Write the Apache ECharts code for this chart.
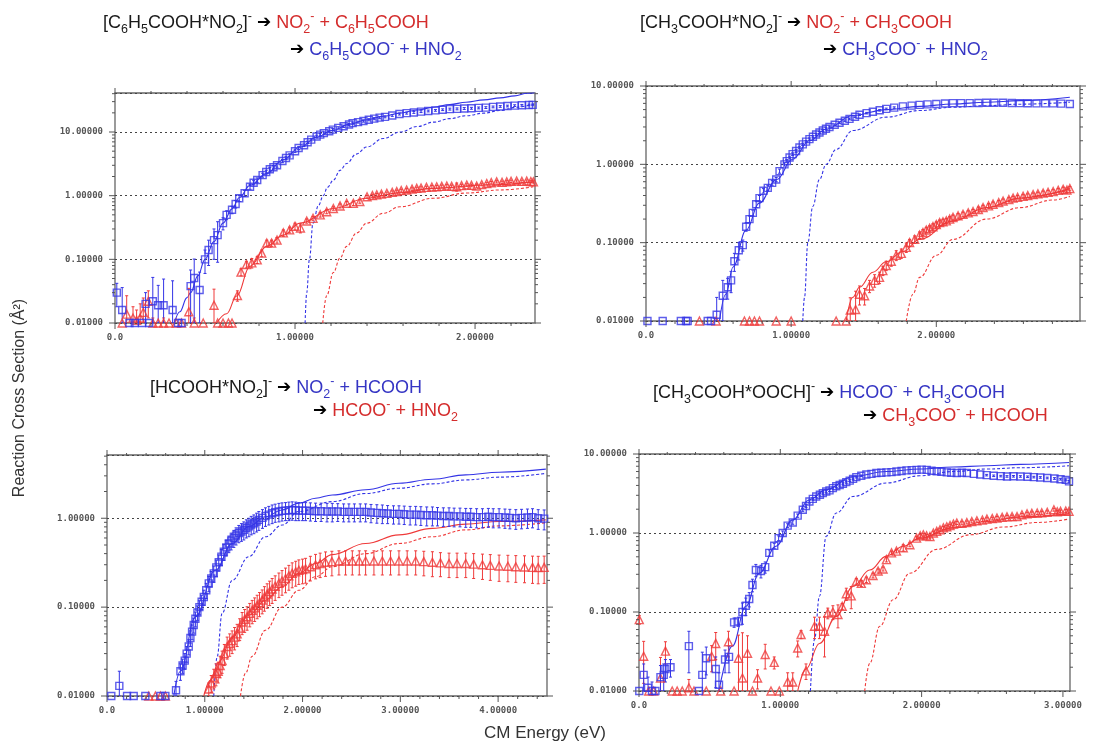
<!DOCTYPE html>
<html><head><meta charset="utf-8">
<script src="https://cdn.jsdelivr.net/npm/echarts/dist/echarts.min.js"></script>
<style>html,body{margin:0;padding:0;background:#fff}#c{width:1098px;height:745px}</style>
</head><body><div id="c"></div>
<script>
// ---------- DATA (x = CM energy eV, y = cross section A^2, e = error) ----------
// Panel 1: [C6H5COOH*NO2]-
const p1Blue = [[0.01,0.030,0.012],[0.04,0.016,0.02],[0.08,0,0.005],[0.11,0,0.005],[0.15,0,0.008],[0.17,0.020,0.01],[0.19,0,0.008],[0.21,0.022,0.03],[0.24,0.019,0.02],[0.27,0.019,0.03],[0.32,0.016,0.03],[0.35,0,0.005],[0.37,0,0.004],[0.42,0.038,0.03],[0.44,0.051,0.05],[0.47,0.033,0.03],[0.50,0.10,0.04],[0.52,0.14,0.06],[0.55,0.20,0.1],[0.57,0.24,0.15],[0.60,0.37,0.08],[0.62,0.50,0.08],[0.65,0.60,0.08],[0.67,0.74,0.1],[0.69,0.91,0.1],[0.72,1.09,0.12],[0.75,1.38,0.12],[0.77,1.6,0.12],[0.79,1.76,0.14],[0.82,2.1,0.15],[0.84,2.35,0.15],[0.86,2.6,0.18],[0.88,2.8,0.18],[0.90,3.0,0.2],[0.93,3.5,0.2],[0.95,3.9,0.2],[0.97,4.3,0.25],[1.00,5.0,0.25],[1.02,5.6,0.3],[1.05,6.2,0.3],[1.07,6.9,0.3],[1.09,7.6,0.35],[1.12,8.5,0.4],[1.14,9.1,0.4],[1.16,9.6,0.4],[1.19,10.3,0.4],[1.21,10.9,0.4],[1.24,11.6,0.5],[1.27,12.3,0.5],[1.30,13.1,0.5],[1.32,13.8,0.5],[1.35,14.3,0.5],[1.38,14.9,0.6],[1.41,15.6,0.6],[1.44,16.2,0.6],[1.47,16.8,0.6],[1.50,17.3,0.6],[1.54,18.2,0.6],[1.58,19.2,0.7],[1.62,19.8,0.7],[1.66,20.3,0.7],[1.70,20.9,0.7],[1.74,21.4,0.7],[1.78,21.9,0.7],[1.82,22.4,0.7],[1.86,22.9,0.8],[1.90,23.1,0.8],[1.94,23.4,0.8],[1.98,23.6,0.8],[2.02,23.9,0.8],[2.06,24.2,0.8],[2.10,24.8,0.8],[2.14,25.2,0.8],[2.18,25.6,0.8],[2.22,26.0,0.8],[2.26,26.3,0.8],[2.30,26.6,0.8],[2.32,26.7,0.8]];
const p1Red = [[0.04,0,0.006],[0.065,0.0138,0.013],[0.10,0.012,0.006],[0.12,0.011,0.005],[0.14,0.012,0.008],[0.157,0.0147,0.01],[0.185,0.022,0.01],[0.21,0,0.012],[0.24,0,0.01],[0.27,0,0.012],[0.30,0,0.008],[0.34,0,0.006],[0.37,0,0.004],[0.41,0.015,0.02],[0.44,0,0.012],[0.49,0,0.008],[0.55,0.019,0.015],[0.57,0,0.005],[0.60,0,0.004],[0.63,0,0.004],[0.65,0,0.004],[0.68,0.027,0.005],[0.70,0.063,0.008],[0.73,0.083,0.01],[0.76,0.088,0.015],[0.79,0.098,0.012],[0.815,0.125,0.015],[0.843,0.18,0.02],[0.87,0.18,0.02],[0.90,0.2,0.02],[0.935,0.26,0.03],[0.97,0.29,0.03],[1.0,0.33,0.04],[1.03,0.31,0.05],[1.065,0.4,0.03],[1.10,0.44,0.03],[1.14,0.5,0.04],[1.176,0.56,0.04],[1.213,0.63,0.04],[1.25,0.69,0.05],[1.287,0.76,0.05],[1.324,0.76,0.06],[1.36,0.81,0.05],[1.40,0.96,0.05],[1.43,1.0,0.05],[1.454,1.03,0.05],[1.48,1.06,0.05],[1.51,1.09,0.05],[1.54,1.13,0.06],[1.565,1.16,0.06],[1.59,1.2,0.06],[1.62,1.23,0.06],[1.65,1.27,0.06],[1.676,1.3,0.06],[1.70,1.32,0.06],[1.73,1.35,0.06],[1.76,1.37,0.07],[1.787,1.38,0.07],[1.815,1.4,0.07],[1.843,1.42,0.07],[1.87,1.4,0.07],[1.898,1.38,0.2],[1.925,1.44,0.07],[1.954,1.47,0.07],[1.98,1.45,0.07],[2.009,1.42,0.1],[2.037,1.5,0.07],[2.065,1.55,0.07],[2.09,1.6,0.07],[2.12,1.65,0.07],[2.15,1.62,0.07],[2.176,1.65,0.07],[2.2,1.68,0.07],[2.231,1.7,0.07],[2.26,1.68,0.07],[2.287,1.7,0.07],[2.31,1.67,0.07],[2.324,1.65,0.07]];
const p1BlueFit = [[0.33,0.01],[0.36,0.015],[0.40,0.025],[0.42,0.03],[0.46,0.055],[0.50,0.1],[0.55,0.19],[0.60,0.37],[0.65,0.62],[0.69,0.93],[0.75,1.45],[0.84,2.2],[0.93,3.6],[1.03,5.8],[1.12,8.3],[1.21,10.6],[1.30,13.2],[1.40,15.6],[1.49,17.7],[1.58,19.8],[1.68,22.2],[1.77,24.5],[1.86,27],[1.95,29.4],[2.05,32],[2.14,34.4],[2.22,37],[2.29,40.6],[2.33,41.5]];
const p1BlueModel = [[1.056,0.01],[1.065,0.03],[1.08,0.1],[1.10,0.37],[1.13,0.7],[1.157,1.0],[1.18,1.35],[1.213,1.76],[1.25,2.5],[1.287,3.2],[1.34,4.5],[1.398,5.8],[1.49,7.9],[1.583,10],[1.68,12.2],[1.77,14.3],[1.86,16.2],[1.95,18],[2.05,19.8],[2.14,21.8],[2.23,24.5],[2.33,27.7]];
const p1RedFit = [[0.565,0.01],[0.62,0.014],[0.676,0.0265],[0.75,0.078],[0.843,0.16],[0.935,0.24],[1.028,0.37],[1.213,0.63],[1.398,0.91],[1.583,1.11],[1.769,1.3],[2.046,1.47],[2.324,1.65]];
const p1RedModel = [[1.154,0.01],[1.176,0.027],[1.213,0.062],[1.25,0.105],[1.287,0.16],[1.343,0.26],[1.398,0.37],[1.491,0.53],[1.583,0.67],[1.769,0.91],[1.954,1.1],[2.139,1.23],[2.324,1.38]];

// Panel 2: [CH3COOH*NO2]-
const p2Blue = [[0.01,0,0.002],[0.115,0,0.002],[0.24,0,0.002],[0.276,0,0.002],[0.287,0,0.002],[0.425,0,0.002],[0.448,0,0.002],[0.487,0.012,0.008],[0.529,0.021,0.012],[0.563,0.027,0.008],[0.586,0.033,0.01],[0.609,0.058,0.015],[0.639,0.08,0.02],[0.667,0.093,0.015],[0.69,0.16,0.02],[0.713,0.2,0.02],[0.736,0.24,0.02],[0.759,0.31,0.03],[0.782,0.37,0.03],[0.809,0.46,0.03],[0.839,0.5,0.04],[0.869,0.58,0.04],[0.897,0.64,0.04],[0.92,0.82,0.05],[0.954,1.0,0.05],[0.97,1.1,0.05],[0.989,1.22,0.05],[1.01,1.35,0.05],[1.034,1.48,0.06],[1.057,1.64,0.06],[1.08,1.8,0.06],[1.103,1.95,0.06],[1.126,2.1,0.07],[1.15,2.25,0.07],[1.172,2.4,0.07],[1.195,2.55,0.08],[1.218,2.7,0.08],[1.24,2.85,0.08],[1.264,3.0,0.08],[1.3,3.2,0.08],[1.333,3.4,0.09],[1.37,3.6,0.09],[1.402,3.8,0.1],[1.44,4.05,0.1],[1.471,4.3,0.1],[1.52,4.5,0.1],[1.563,4.7,0.1],[1.61,4.9,0.12],[1.655,5.1,0.12],[1.71,5.3,0.12],[1.77,5.5,0.12],[1.83,5.62,0.12],[1.885,5.75,0.12],[1.94,5.82,0.12],[2.0,5.9,0.12],[2.06,5.98,0.12],[2.115,6.05,0.12],[2.17,6.05,0.12],[2.23,6.05,0.12],[2.29,6.08,0.12],[2.345,6.1,0.12],[2.4,6.1,0.12],[2.46,6.1,0.12],[2.52,6.08,0.12],[2.575,6.05,0.12],[2.63,6.02,0.12],[2.69,6.0,0.12],[2.75,6.0,0.12],[2.805,6.0,0.12],[2.86,5.95,0.12],[2.92,5.9,0.12]];
const p2Red = [[0.368,0,0.002],[0.483,0,0.002],[0.678,0,0.002],[0.713,0,0.002],[0.747,0,0.002],[0.782,0,0.002],[0.897,0,0.002],[1.0,0,0.004],[1.31,0,0.006],[1.379,0,0.002],[1.407,0.0138,0.006],[1.444,0.014,0.01],[1.471,0.022,0.006],[1.506,0.021,0.005],[1.54,0.028,0.005],[1.575,0.033,0.006],[1.609,0.036,0.006],[1.632,0.044,0.006],[1.655,0.051,0.007],[1.69,0.058,0.008],[1.724,0.069,0.01],[1.759,0.073,0.01],[1.793,0.087,0.012],[1.816,0.1,0.01],[1.851,0.11,0.012],[1.885,0.125,0.012],[1.908,0.135,0.012],[1.931,0.145,0.012],[1.954,0.152,0.012],[1.977,0.16,0.014],[2.0,0.17,0.014],[2.023,0.18,0.014],[2.046,0.185,0.014],[2.069,0.19,0.014],[2.092,0.2,0.015],[2.115,0.21,0.015],[2.15,0.22,0.015],[2.184,0.23,0.015],[2.22,0.24,0.015],[2.253,0.25,0.015],[2.29,0.265,0.02],[2.322,0.28,0.02],[2.36,0.295,0.02],[2.391,0.31,0.02],[2.43,0.325,0.02],[2.46,0.34,0.02],[2.5,0.355,0.02],[2.529,0.37,0.02],[2.56,0.38,0.02],[2.598,0.39,0.02],[2.63,0.4,0.02],[2.667,0.41,0.02],[2.7,0.42,0.02],[2.736,0.43,0.025],[2.77,0.44,0.025],[2.805,0.45,0.025],[2.84,0.465,0.025],[2.874,0.48,0.03],[2.9,0.47,0.03],[2.92,0.49,0.03]];
const p2BlueFit = [[0.506,0.01],[0.55,0.022],[0.60,0.049],[0.69,0.145],[0.78,0.32],[0.90,0.64],[1.01,1.16],[1.126,2.0],[1.24,2.8],[1.425,4.2],[1.655,5.0],[1.885,5.5],[2.115,5.9],[2.345,6.2],[2.575,6.5],[2.92,7.2]];
const p2BlueModel = [[1.08,0.01],[1.092,0.02],[1.115,0.1],[1.149,0.29],[1.195,0.64],[1.241,1.0],[1.31,1.55],[1.425,2.7],[1.655,4.0],[1.885,4.86],[2.115,5.36],[2.345,5.6],[2.575,5.86],[2.92,6.2]];
const p2RedFit = [[1.379,0.01],[1.425,0.02],[1.471,0.027],[1.563,0.042],[1.655,0.057],[1.77,0.077],[1.885,0.11],[2.115,0.19],[2.345,0.28],[2.575,0.37],[2.92,0.49]];
const p2RedModel = [[1.793,0.01],[1.839,0.022],[1.885,0.036],[2.0,0.069],[2.115,0.11],[2.345,0.2],[2.575,0.28],[2.805,0.35],[2.92,0.39]];

// Panel 3: [HCOOH*NO2]-
const p3Blue = [[0.044,0,0.002],[0.126,0.013,0.006],[0.205,0,0.002],[0.273,0,0.002],[0.392,0,0.002],[0.546,0,0.002],[0.597,0,0.002],[0.706,0.0116,0.003],[0.751,0.019,0.004],[0.773,0.022,0.004],[0.795,0.025,0.005],[0.815,0.03,0.006],[0.836,0.036,0.007],[0.853,0.045,0.009],[0.87,0.053,0.01],[0.887,0.063,0.012],[0.904,0.074,0.014],[0.925,0.087,0.016],[0.945,0.1,0.018],[0.968,0.115,0.021],[0.99,0.13,0.025],[1.015,0.155,0.03],[1.041,0.185,0.036],[1.066,0.21,0.042],[1.092,0.24,0.05],[1.118,0.28,0.058],[1.143,0.32,0.066],[1.17,0.37,0.075],[1.195,0.42,0.085],[1.22,0.47,0.095],[1.246,0.52,0.11],[1.27,0.56,0.12],[1.297,0.6,0.13],[1.32,0.64,0.14],[1.348,0.68,0.15],[1.375,0.71,0.16],[1.399,0.74,0.17],[1.425,0.78,0.18],[1.451,0.81,0.19],[1.475,0.85,0.2],[1.502,0.88,0.21],[1.53,0.92,0.22],[1.553,0.96,0.23],[1.59,1.01,0.24],[1.621,1.06,0.25],[1.655,1.1,0.26],[1.689,1.14,0.27],[1.72,1.17,0.27],[1.758,1.19,0.28],[1.79,1.21,0.28],[1.826,1.22,0.28],[1.86,1.23,0.29],[1.894,1.24,0.29],[1.93,1.23,0.29],[1.962,1.22,0.28],[2.0,1.22,0.28],[2.031,1.22,0.28],[2.08,1.21,0.28],[2.133,1.2,0.28],[2.19,1.2,0.28],[2.25,1.19,0.28],[2.304,1.19,0.28],[2.36,1.19,0.27],[2.42,1.18,0.27],[2.474,1.18,0.27],[2.53,1.18,0.27],[2.59,1.18,0.27],[2.645,1.18,0.27],[2.7,1.16,0.27],[2.76,1.15,0.27],[2.816,1.14,0.27],[2.87,1.13,0.26],[2.93,1.12,0.26],[2.986,1.12,0.26],[3.04,1.11,0.26],[3.1,1.1,0.26],[3.157,1.1,0.26],[3.21,1.09,0.26],[3.27,1.08,0.26],[3.328,1.08,0.26],[3.38,1.07,0.25],[3.44,1.06,0.25],[3.498,1.06,0.25],[3.55,1.05,0.25],[3.61,1.05,0.25],[3.669,1.04,0.25],[3.72,1.04,0.25],[3.78,1.03,0.25],[3.84,1.03,0.25],[3.9,1.04,0.25],[3.95,1.03,0.25],[4.01,1.03,0.25],[4.07,1.02,0.25],[4.12,1.01,0.25],[4.181,1.0,0.25],[4.24,1.01,0.25],[4.3,1.02,0.25],[4.352,1.03,0.25],[4.41,1.0,0.25],[4.471,0.99,0.25]];
const p3Red = [[0.427,0,0.002],[0.495,0,0.002],[0.546,0,0.002],[0.597,0,0.002],[1.041,0.012,0.002],[1.066,0.014,0.003],[1.092,0.016,0.004],[1.115,0.018,0.005],[1.137,0.019,0.005],[1.157,0.022,0.006],[1.177,0.025,0.007],[1.2,0.03,0.008],[1.229,0.036,0.01],[1.255,0.039,0.011],[1.28,0.042,0.012],[1.305,0.046,0.013],[1.331,0.05,0.014],[1.357,0.058,0.016],[1.382,0.068,0.019],[1.408,0.073,0.021],[1.433,0.078,0.023],[1.46,0.085,0.025],[1.485,0.092,0.027],[1.51,0.098,0.029],[1.536,0.105,0.031],[1.56,0.112,0.034],[1.587,0.12,0.036],[1.61,0.13,0.04],[1.638,0.14,0.043],[1.663,0.15,0.046],[1.689,0.16,0.05],[1.72,0.172,0.053],[1.758,0.185,0.057],[1.79,0.197,0.061],[1.826,0.21,0.065],[1.86,0.225,0.07],[1.894,0.24,0.075],[1.93,0.25,0.078],[1.962,0.26,0.08],[2.0,0.265,0.082],[2.031,0.27,0.084],[2.08,0.285,0.088],[2.133,0.3,0.092],[2.18,0.31,0.095],[2.235,0.32,0.098],[2.3,0.325,0.1],[2.372,0.33,0.1],[2.44,0.33,0.1],[2.509,0.33,0.1],[2.58,0.33,0.1],[2.645,0.33,0.1],[2.73,0.33,0.1],[2.816,0.33,0.1],[2.9,0.33,0.1],[2.986,0.33,0.1],[3.07,0.33,0.1],[3.157,0.33,0.1],[3.24,0.325,0.1],[3.328,0.32,0.1],[3.41,0.315,0.095],[3.498,0.31,0.095],[3.58,0.31,0.095],[3.669,0.31,0.095],[3.75,0.305,0.095],[3.84,0.3,0.095],[3.92,0.295,0.095],[4.01,0.29,0.095],[4.1,0.288,0.095],[4.181,0.285,0.095],[4.27,0.283,0.095],[4.352,0.28,0.095],[4.41,0.278,0.095],[4.471,0.28,0.095]];
const p3BlueFit = [[0.683,0.01],[0.751,0.019],[0.904,0.078],[1.109,0.26],[1.28,0.52],[1.451,0.81],[1.621,1.04],[1.792,1.24],[1.962,1.48],[2.133,1.68],[2.304,1.83],[2.645,2.09],[2.986,2.48],[3.328,2.75],[3.669,3.08],[4.01,3.3],[4.488,3.57]];
const p3BlueModel = [[1.092,0.01],[1.126,0.0275],[1.177,0.085],[1.28,0.2],[1.451,0.37],[1.621,0.62],[1.792,0.84],[1.962,1.19],[2.304,1.54],[2.645,1.9],[2.986,2.18],[3.328,2.44],[3.669,2.7],[4.01,2.9],[4.488,3.2]];
const p3RedFit = [[0.99,0.01],[1.058,0.015],[1.143,0.024],[1.28,0.046],[1.451,0.081],[1.621,0.12],[1.792,0.17],[1.962,0.24],[2.133,0.31],[2.304,0.39],[2.645,0.52],[2.986,0.65],[3.328,0.77],[3.669,0.86],[4.01,0.92],[4.488,0.96]];
const p3RedModel = [[1.365,0.01],[1.416,0.018],[1.485,0.028],[1.621,0.055],[1.792,0.1],[1.962,0.155],[2.133,0.22],[2.304,0.285],[2.645,0.4],[2.986,0.52],[3.328,0.62],[3.669,0.74],[4.01,0.82],[4.488,0.89]];

// Panel 4: [CH3COOH*OOCH]-
const p4Blue = [[0.002,0,0.002],[0.033,0.016,0.006],[0.064,0.011,0.004],[0.092,0.01,0.003],[0.116,0,0.002],[0.152,0.015,0.006],[0.175,0.016,0.006],[0.187,0.019,0.006],[0.223,0.02,0.005],[0.353,0.037,0.02],[0.424,0,0.004],[0.448,0.016,0.015],[0.476,0.026,0.01],[0.543,0.019,0.008],[0.566,0.012,0.005],[0.609,0.025,0.008],[0.637,0.027,0.01],[0.673,0.074,0.01],[0.704,0.076,0.01],[0.732,0.1,0.03],[0.756,0.12,0.03],[0.78,0.146,0.03],[0.803,0.22,0.04],[0.827,0.34,0.06],[0.863,0.33,0.06],[0.893,0.37,0.06],[0.922,0.56,0.05],[0.957,0.69,0.05],[0.988,0.86,0.06],[1.017,1.0,0.06],[1.052,1.24,0.07],[1.088,1.36,0.07],[1.123,1.66,0.08],[1.159,1.97,0.09],[1.182,2.2,0.09],[1.206,2.5,0.1],[1.23,2.7,0.1],[1.254,2.9,0.1],[1.28,3.05,0.1],[1.301,3.2,0.1],[1.325,3.35,0.12],[1.348,3.46,0.12],[1.372,3.7,0.12],[1.396,3.9,0.12],[1.42,4.05,0.12],[1.443,4.2,0.12],[1.467,4.4,0.12],[1.491,4.6,0.12],[1.515,4.85,0.12],[1.538,5.1,0.12],[1.573,5.3,0.12],[1.609,5.5,0.12],[1.645,5.6,0.12],[1.68,5.75,0.12],[1.715,5.8,0.12],[1.751,5.86,0.12],[1.787,5.9,0.12],[1.822,6.0,0.12],[1.858,6.1,0.12],[1.893,6.2,0.12],[1.93,6.25,0.12],[1.964,6.3,0.12],[2.0,6.35,0.12],[2.036,6.3,0.12],[2.07,6.15,0.12],[2.107,6.05,0.12],[2.14,5.95,0.12],[2.178,5.86,0.12],[2.21,5.8,0.12],[2.249,5.75,0.12],[2.285,5.78,0.12],[2.32,5.75,0.12],[2.37,5.6,0.12],[2.415,5.5,0.12],[2.46,5.4,0.12],[2.51,5.3,0.12],[2.56,5.25,0.12],[2.604,5.2,0.12],[2.65,5.22,0.12],[2.699,5.2,0.12],[2.75,5.15,0.12],[2.794,5.1,0.12],[2.84,5.05,0.12],[2.889,4.97,0.12],[2.94,4.9,0.12],[2.983,4.8,0.12],[3.02,4.7,0.12],[3.043,4.5,0.12]];
const p4Red = [[0.002,0.08,0.01],[0.033,0.0275,0.015],[0.069,0,0.006],[0.104,0,0.003],[0.152,0.0146,0.012],[0.187,0.032,0.01],[0.235,0,0.002],[0.27,0,0.002],[0.306,0,0.002],[0.353,0.011,0.003],[0.389,0,0.002],[0.476,0,0.004],[0.514,0.0275,0.01],[0.543,0.04,0.015],[0.578,0,0.01],[0.633,0.042,0.015],[0.673,0,0.01],[0.704,0.026,0.025],[0.732,0.0146,0.04],[0.768,0.03,0.02],[0.803,0,0.002],[0.839,0.0146,0.004],[0.893,0.029,0.01],[0.934,0,0.002],[0.957,0.023,0.004],[0.993,0,0.002],[1.052,0.013,0.004],[1.088,0.013,0.004],[1.123,0.035,0.008],[1.147,0.052,0.006],[1.182,0.018,0.004],[1.242,0.066,0.02],[1.277,0.066,0.02],[1.313,0.057,0.03],[1.336,0.097,0.015],[1.372,0.1,0.02],[1.408,0.093,0.03],[1.438,0.118,0.01],[1.467,0.17,0.03],[1.502,0.16,0.05],[1.538,0.245,0.02],[1.573,0.23,0.02],[1.609,0.256,0.02],[1.656,0.29,0.02],[1.692,0.33,0.02],[1.727,0.35,0.02],[1.751,0.46,0.03],[1.787,0.56,0.03],[1.822,0.59,0.03],[1.87,0.65,0.06],[1.917,0.71,0.04],[1.964,0.86,0.04],[1.99,0.92,0.04],[2.012,0.95,0.04],[2.035,0.92,0.04],[2.059,0.9,0.04],[2.083,1.0,0.05],[2.107,1.05,0.05],[2.13,1.1,0.05],[2.154,1.16,0.05],[2.178,1.2,0.05],[2.201,1.24,0.05],[2.225,1.3,0.05],[2.249,1.34,0.06],[2.285,1.33,0.06],[2.32,1.36,0.06],[2.355,1.4,0.06],[2.391,1.43,0.06],[2.43,1.46,0.06],[2.462,1.5,0.06],[2.5,1.52,0.06],[2.533,1.55,0.07],[2.57,1.58,0.07],[2.604,1.6,0.07],[2.64,1.61,0.07],[2.675,1.62,0.07],[2.71,1.7,0.07],[2.746,1.75,0.08],[2.78,1.77,0.08],[2.818,1.79,0.08],[2.85,1.8,0.08],[2.889,1.83,0.08],[2.936,1.97,0.08],[2.96,1.85,0.08],[2.983,1.88,0.08],[3.02,1.9,0.08],[3.043,1.88,0.08]];
const p4BlueFit = [[0.566,0.01],[0.661,0.037],[0.756,0.118],[0.851,0.31],[0.969,0.68],[1.088,1.47],[1.206,2.64],[1.325,3.54],[1.514,5.2],[1.751,6.0],[1.988,6.45],[2.225,6.85],[2.462,7.1],[2.699,7.4],[3.043,7.8]];
const p4BlueModel = [[1.213,0.01],[1.242,0.045],[1.277,0.158],[1.325,0.91],[1.396,1.79],[1.514,2.9],[1.751,4.3],[1.988,5.3],[2.225,6.0],[2.462,6.45],[2.699,6.7],[3.043,7.1]];
const p4RedFit = [[1.123,0.01],[1.182,0.019],[1.277,0.04],[1.396,0.088],[1.514,0.21],[1.633,0.34],[1.751,0.51],[1.87,0.68],[1.988,0.86],[2.225,1.16],[2.462,1.4],[2.699,1.6],[3.043,1.76]];
const p4RedModel = [[1.597,0.01],[1.633,0.0225],[1.704,0.066],[1.799,0.143],[1.917,0.31],[2.107,0.62],[2.344,0.95],[2.581,1.19],[2.818,1.36],[3.043,1.5]];

const xTickLabels = ['0.0','1.00000','2.00000','3.00000','4.00000'];
const yAxisTitle = 'Reaction Cross Section (\u00C5\u00B2)';
const xAxisTitle = 'CM Energy (eV)';

// ---------- LAYOUT ----------
const BLUE = '#3434e6', RED = '#ef3a3a';
const panels = [
  {grid:{left:115,top:93,width:420,height:230}, xMax:2.333, yMax:41, blue:p1Blue, red:p1Red, bf:p1BlueFit, bm:p1BlueModel, rf:p1RedFit, rm:p1RedModel},
  {grid:{left:646,top:86,width:434,height:235}, xMax:2.99, yMax:10, blue:p2Blue, red:p2Red, bf:p2BlueFit, bm:p2BlueModel, rf:p2RedFit, rm:p2RedModel},
  {grid:{left:107,top:455,width:440,height:241}, xMax:4.5, yMax:5.15, blue:p3Blue, red:p3Red, bf:p3BlueFit, bm:p3BlueModel, rf:p3RedFit, rm:p3RedModel},
  {grid:{left:639,top:454,width:431,height:237}, xMax:3.05, yMax:10, blue:p4Blue, red:p4Red, bf:p4BlueFit, bm:p4BlueModel, rf:p4RedFit, rm:p4RedModel}
];

// ---------- TITLES (rich text) ----------
const FONT = 'Liberation Sans, Arial, sans-serif';
function norm(c){return {fontFamily:FONT,fontSize:18,lineHeight:26,fill:c,verticalAlign:'middle'};}
function sub(c){return {fontFamily:FONT,fontSize:12.5,lineHeight:12,fill:c,verticalAlign:'bottom'};}
function sup(c){return {fontFamily:FONT,fontSize:12.5,lineHeight:12,fill:c,verticalAlign:'top'};}
const TK='#1a1a1a', TR='#d42c2c', TB='#3535c4';
const RICH = {k:norm(TK),ks:sub(TK),kp:sup(TK),r:norm(TR),rs:sub(TR),rp:sup(TR),b:norm(TB),bs:sub(TB),bp:sup(TB),
  ar:{fontFamily:'DejaVu Sans, sans-serif',fontSize:17,lineHeight:26,fill:'#000',verticalAlign:'middle',fontWeight:'bold'}};
function rt(parts){return parts.map(p=>'{'+p[0]+'|'+p[1]+'}').join('');}
const A = ['ar','\u2794'];
const titles = [
  {x:103,y:23,t:rt([['k','[C'],['ks','6'],['k','H'],['ks','5'],['k','COOH*NO'],['ks','2'],['k',']'],['kp','-'],['k',' '],A,['k',' '],['r','NO'],['rs','2'],['rp','-'],['r',' + C'],['rs','6'],['r','H'],['rs','5'],['r','COOH']])},
  {x:290,y:50,t:rt([A,['k',' '],['b','C'],['bs','6'],['b','H'],['bs','5'],['b','COO'],['bp','-'],['b',' + HNO'],['bs','2']])},
  {x:640,y:23,t:rt([['k','[CH'],['ks','3'],['k','COOH*NO'],['ks','2'],['k',']'],['kp','-'],['k',' '],A,['k',' '],['r','NO'],['rs','2'],['rp','-'],['r',' + CH'],['rs','3'],['r','COOH']])},
  {x:823,y:50,t:rt([A,['k',' '],['b','CH'],['bs','3'],['b','COO'],['bp','-'],['b',' + HNO'],['bs','2']])},
  {x:150,y:388,t:rt([['k','[HCOOH*NO'],['ks','2'],['k',']'],['kp','-'],['k',' '],A,['k',' '],['b','NO'],['bs','2'],['bp','-'],['b',' + HCOOH']])},
  {x:313,y:411,t:rt([A,['k',' '],['r','HCOO'],['rp','-'],['r',' + HNO'],['rs','2']])},
  {x:653,y:393,t:rt([['k','[CH'],['ks','3'],['k','COOH*OOCH]'],['kp','-'],['k',' '],A,['k',' '],['b','HCOO'],['bp','-'],['b',' + CH'],['bs','3'],['b','COOH']])},
  {x:863,y:416,t:rt([A,['k',' '],['r','CH'],['rs','3'],['r','COO'],['rp','-'],['r',' + HCOOH']])}
];

// ---------- BUILD ----------
const grids=[], xAxes=[], yAxes=[], series=[];
function errRender(color){
  return function(params, api){
    const x=api.value(0), y=api.value(3), e=api.value(2);
    const lo=Math.max(y-e,0.01), hi=Math.max(y+e,0.01);
    const a=api.coord([x,lo]), b=api.coord([x,hi]);
    if (Math.abs(a[1]-b[1])<1.5) return null;
    const st={stroke:color,lineWidth:1};
    return {type:'group',children:[
      {type:'line',shape:{x1:a[0],y1:a[1],x2:b[0],y2:b[1]},style:st},
      {type:'line',shape:{x1:b[0]-1.5,y1:b[1],x2:b[0]+1.5,y2:b[1]},style:st},
      {type:'line',shape:{x1:a[0]-1.5,y1:a[1],x2:a[0]+1.5,y2:a[1]},style:st}
    ]};
  };
}
function tickRender(params, api){
  const cs=params.coordSys;
  const kind=api.value(2), major=api.value(3);
  const L=major?6:3;
  const st={stroke:'#555',lineWidth:1};
  if(kind===0){
    const px=api.coord([api.value(0),0.01])[0];
    const yb=cs.y+cs.height, yt=cs.y;
    return {type:'group',children:[
      {type:'line',shape:{x1:px,y1:yb,x2:px,y2:yb+L},style:st},
      {type:'line',shape:{x1:px,y1:yt-L+1,x2:px,y2:yt+1},style:st}
    ]};
  } else {
    const py=api.coord([0,api.value(1)])[1];
    const xl=cs.x, xr=cs.x+cs.width;
    return {type:'group',children:[
      {type:'line',shape:{x1:xl-L,y1:py,x2:xl,y2:py},style:st},
      {type:'line',shape:{x1:xr,y1:py,x2:xr+L,y2:py},style:st}
    ]};
  }
}
panels.forEach((p,i)=>{
  grids.push(Object.assign({show:true,borderColor:'#666',borderWidth:1.3,backgroundColor:'#fff'},p.grid));
  xAxes.push({type:'value',gridIndex:i,min:0,max:p.xMax,interval:1,
    axisLine:{show:false},axisTick:{show:false},splitLine:{show:false},
    axisLabel:{margin:10,showMaxLabel:false,fontFamily:'DejaVu Sans Mono, monospace',fontSize:9,color:'#555',fontWeight:'bold',
      formatter:v=>xTickLabels[Math.round(v)]}});
  yAxes.push({type:'log',logBase:10,gridIndex:i,min:0.01,max:p.yMax,
    axisLine:{show:false},axisTick:{show:false},
    splitLine:{show:true,lineStyle:{type:[2,3],color:'#444',width:1}},
    axisLabel:{margin:12,showMaxLabel:(p.yMax===10),fontFamily:'DejaVu Sans Mono, monospace',fontSize:9,color:'#555',fontWeight:'bold',
      formatter:v=>v.toFixed(5)}});
  const ax={xAxisIndex:i,yAxisIndex:i};
  const lineCommon={type:'line',showSymbol:false,symbol:'none',smooth:0.4,smoothMonotone:'x',silent:true,animation:false,clip:true};
  series.push(Object.assign({},lineCommon,ax,{data:p.bm,lineStyle:{color:BLUE,width:1.1,type:[3,2]},z:2}));
  series.push(Object.assign({},lineCommon,ax,{data:p.rm,lineStyle:{color:RED,width:1.1,type:[3,2]},z:2}));
  series.push(Object.assign({},lineCommon,ax,{data:p.bf,lineStyle:{color:BLUE,width:1.1},z:2}));
  series.push(Object.assign({},lineCommon,ax,{data:p.rf,lineStyle:{color:RED,width:1.1},z:2}));
  [[p.red,RED,'triangle'],[p.blue,BLUE,'rect']].forEach(([pts,col,sym])=>{
    series.push(Object.assign({type:'custom',renderItem:errRender(col),clip:true,silent:true,animation:false,z:3,
      encode:{x:0,y:1},data:pts.map(q=>[q[0],Math.max(q[1],0.01),q[2],q[1]])},ax));
    series.push(Object.assign({type:'scatter',symbol:sym,symbolSize:sym==='rect'?7:8,silent:true,animation:false,z:4,
      itemStyle:{color:'rgba(255,255,255,0)',borderColor:col,borderWidth:1.4},
      data:pts.map(q=>[q[0],Math.max(q[1],0.01)])},ax));
  });
  // tick marks on all four sides
  const ticks=[];
  for(let k=0;k<=Math.floor(p.xMax*5+1e-6);k++){ticks.push([k/5,0.01,0,k%5===0?1:0]);}
  [0.01,0.1,1,10].forEach(d=>{for(let m=1;m<=9;m++){const v=m*d; if(v<=p.yMax*1.0001) ticks.push([0,v,1,m===1?1:0]);}});
  series.push(Object.assign({type:'custom',renderItem:tickRender,clip:false,silent:true,animation:false,z:5,encode:{x:0,y:1},data:ticks},ax));
});

const graphics = titles.map(t=>({type:'text',x:t.x,y:t.y,silent:true,style:{text:t.t,rich:RICH,align:'left',verticalAlign:'middle'}}));
graphics.push({type:'text',x:20,y:398,rotation:Math.PI/2,silent:true,style:{text:yAxisTitle,font:'16px '+FONT,fill:'#333',align:'center',verticalAlign:'middle'}});
graphics.push({type:'text',x:545,y:733,silent:true,style:{text:xAxisTitle,font:'17px '+FONT,fill:'#333',align:'center',verticalAlign:'middle'}});

const chart = echarts.init(document.getElementById('c'), null, {renderer:'canvas'});
chart.setOption({animation:false,backgroundColor:'#fff',grid:grids,xAxis:xAxes,yAxis:yAxes,series:series,graphic:graphics});
</script></body></html>
